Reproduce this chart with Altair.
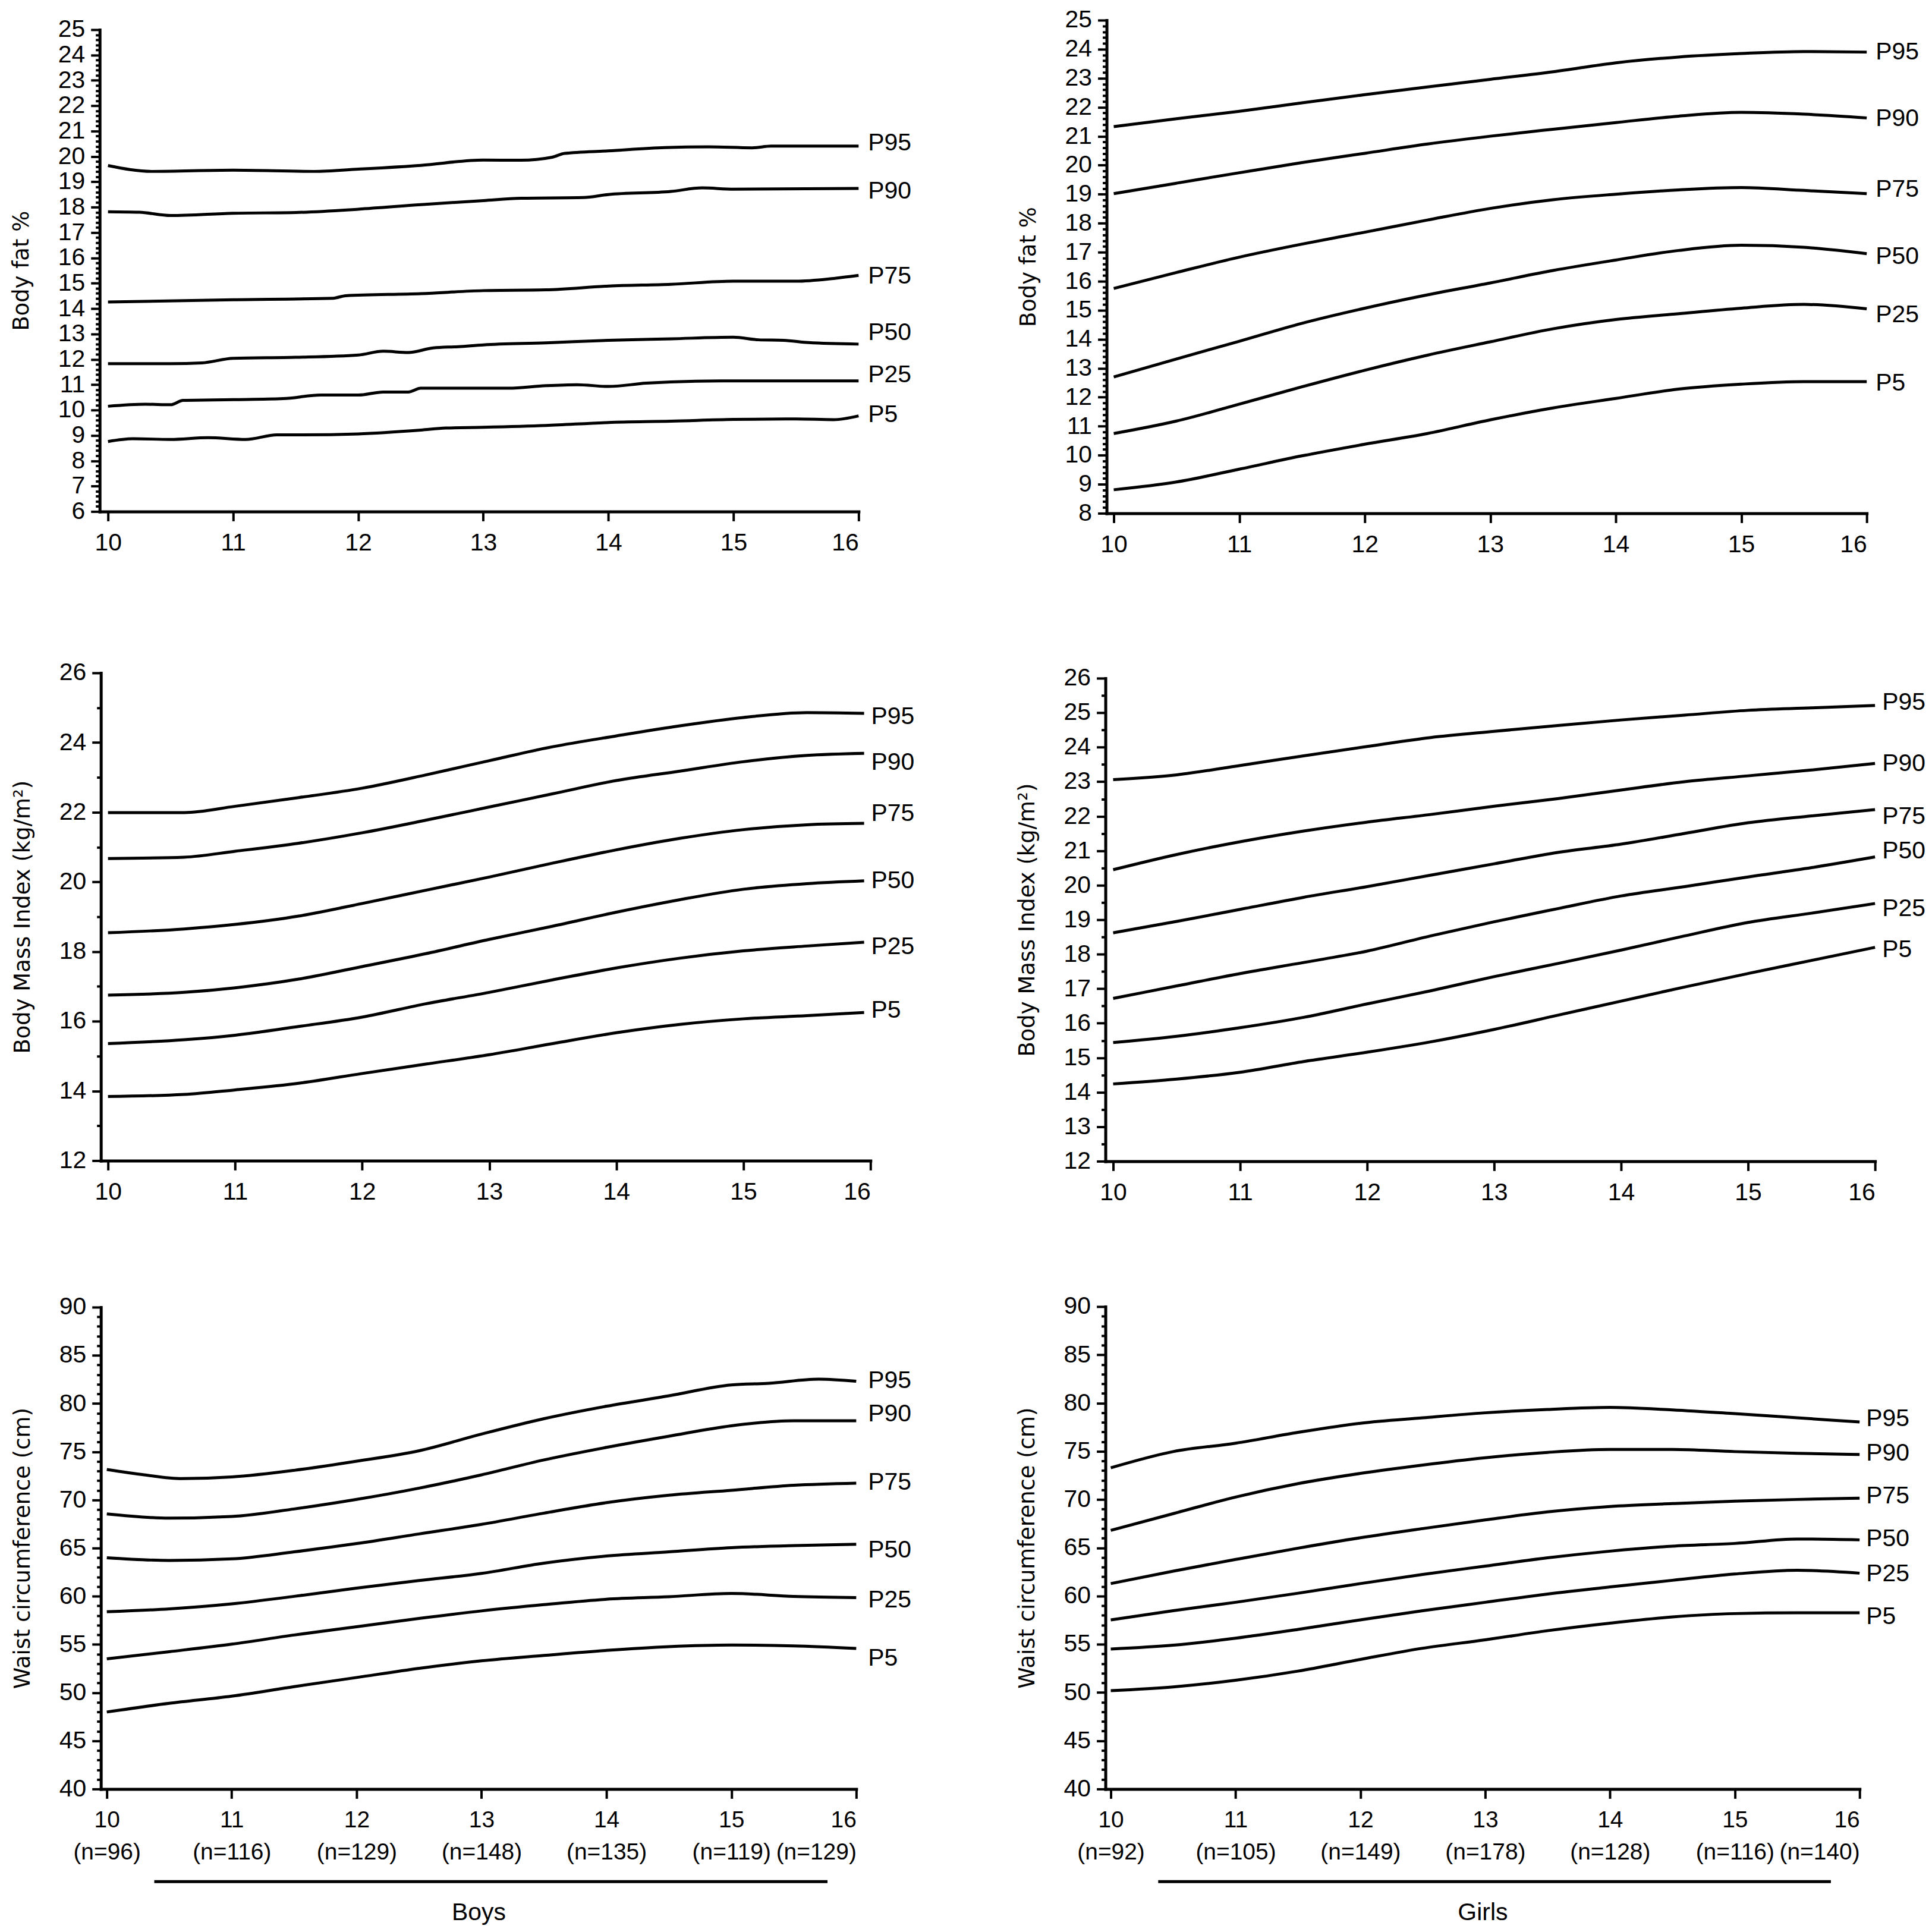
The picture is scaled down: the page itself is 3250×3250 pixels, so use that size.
import altair as alt
import pandas as pd

PCTS = ["P95", "P90", "P75", "P50", "P25", "P5"]
GRID = [10, 10.5, 11, 11.5, 12, 12.5, 13, 13.5, 14, 14.5, 15, 15.5, 16]

# ---------- Body fat %, boys ----------
bf_boys_age = {
    "P95": [10, 10.35, 11, 11.65, 12, 12.5, 13, 13.3, 13.55, 13.65, 14, 14.45, 14.8, 15.15, 15.3, 16],
    "P90": [10, 10.25, 10.5, 11, 11.5, 12, 12.5, 13, 13.3, 13.8, 14, 14.5, 14.75, 15, 16],
    "P75": [10, 11, 11.8, 11.9, 12.5, 13, 13.5, 14, 14.5, 15, 15.5, 15.8, 16],
    "P50": [10, 10.5, 10.75, 11, 11.5, 12, 12.2, 12.4, 12.6, 12.8, 13, 13.5, 14, 14.5, 15, 15.2, 15.4, 15.6, 16],
    "P25": [10, 10.3, 10.5, 10.6, 11, 11.4, 11.7, 12, 12.2, 12.4, 12.5, 13, 13.2, 13.5, 13.75, 14, 14.3, 14.7, 15, 16],
    "P5": [10, 10.2, 10.5, 10.8, 11.1, 11.35, 11.5, 12, 12.5, 12.7, 13, 13.5, 14, 14.5, 15, 15.5, 15.8, 16],
}
bf_boys_val = {
    "P95": [19.64, 19.41, 19.46, 19.41, 19.50, 19.65, 19.86, 19.85, 19.97, 20.12, 20.22, 20.35, 20.38, 20.34, 20.41, 20.41],
    "P90": [17.82, 17.80, 17.67, 17.76, 17.79, 17.92, 18.10, 18.26, 18.35, 18.38, 18.50, 18.62, 18.76, 18.71, 18.74],
    "P75": [14.26, 14.35, 14.41, 14.51, 14.59, 14.71, 14.74, 14.89, 14.96, 15.08, 15.08, 15.19, 15.31],
    "P50": [11.83, 11.83, 11.86, 12.04, 12.08, 12.17, 12.32, 12.27, 12.45, 12.50, 12.57, 12.65, 12.75, 12.81, 12.87, 12.77, 12.75, 12.66, 12.60],
    "P25": [10.15, 10.23, 10.21, 10.38, 10.41, 10.45, 10.59, 10.59, 10.71, 10.71, 10.86, 10.86, 10.86, 10.96, 11.0, 10.93, 11.06, 11.14, 11.15, 11.15],
    "P5": [8.76, 8.87, 8.84, 8.91, 8.84, 9.02, 9.02, 9.06, 9.21, 9.29, 9.32, 9.39, 9.51, 9.56, 9.63, 9.65, 9.62, 9.77],
}
bf_boys_label_y = [20.52, 18.62, 15.26, 13.05, 11.38, 9.81]

# ---------- Body fat %, girls ----------
bf_girls_val = {
    "P95": [21.33, 21.60, 21.86, 22.15, 22.43, 22.70, 22.96, 23.22, 23.53, 23.73, 23.85, 23.92, 23.90],
    "P90": [19.02, 19.38, 19.74, 20.09, 20.41, 20.73, 21.00, 21.24, 21.47, 21.69, 21.82, 21.76, 21.63],
    "P75": [15.75, 16.30, 16.83, 17.28, 17.69, 18.11, 18.51, 18.81, 19.00, 19.15, 19.23, 19.13, 19.02],
    "P50": [12.70, 13.32, 13.93, 14.55, 15.07, 15.53, 15.94, 16.37, 16.73, 17.06, 17.24, 17.17, 16.95],
    "P25": [10.75, 11.18, 11.76, 12.36, 12.93, 13.45, 13.91, 14.36, 14.68, 14.88, 15.07, 15.20, 15.05],
    "P5": [8.81, 9.08, 9.52, 9.98, 10.38, 10.75, 11.22, 11.63, 11.96, 12.28, 12.45, 12.54, 12.54],
}
bf_girls_label_y = [23.90, 21.59, 19.16, 16.85, 14.84, 12.48]

# ---------- BMI, boys ----------
bmi_boys_ages = [10, 10.6, 11, 11.5, 12, 12.5, 13, 13.5, 14, 14.5, 15, 15.5, 15.95]
bmi_boys_val = {
    "P95": [21.99, 21.99, 22.17, 22.42, 22.69, 23.07, 23.48, 23.88, 24.19, 24.48, 24.72, 24.86, 24.84],
    "P90": [20.67, 20.71, 20.88, 21.11, 21.41, 21.77, 22.15, 22.53, 22.91, 23.18, 23.45, 23.63, 23.69],
    "P75": [18.54, 18.65, 18.78, 19.02, 19.38, 19.76, 20.14, 20.54, 20.92, 21.25, 21.50, 21.64, 21.68],
    "P50": [16.75, 16.83, 16.96, 17.21, 17.57, 17.94, 18.35, 18.73, 19.13, 19.49, 19.79, 19.95, 20.03],
    "P25": [15.36, 15.47, 15.60, 15.85, 16.12, 16.50, 16.83, 17.19, 17.53, 17.81, 18.02, 18.16, 18.27],
    "P5": [13.84, 13.90, 14.03, 14.22, 14.50, 14.77, 15.04, 15.36, 15.67, 15.91, 16.07, 16.16, 16.25],
}
bmi_boys_label_y = [24.73, 23.43, 21.96, 20.02, 18.13, 16.31]

# ---------- BMI, girls ----------
bmi_girls_val = {
    "P95": [23.06, 23.20, 23.47, 23.75, 24.02, 24.28, 24.46, 24.63, 24.79, 24.93, 25.07, 25.14, 25.21],
    "P90": [20.45, 20.89, 21.26, 21.57, 21.83, 22.05, 22.29, 22.51, 22.76, 23.00, 23.17, 23.34, 23.53],
    "P75": [18.62, 18.95, 19.30, 19.65, 19.96, 20.29, 20.62, 20.95, 21.19, 21.50, 21.81, 22.01, 22.19],
    "P50": [16.72, 17.08, 17.44, 17.76, 18.09, 18.53, 18.94, 19.32, 19.69, 19.96, 20.24, 20.51, 20.82],
    "P25": [15.44, 15.62, 15.87, 16.17, 16.56, 16.94, 17.35, 17.73, 18.12, 18.53, 18.92, 19.19, 19.47],
    "P5": [14.24, 14.38, 14.58, 14.89, 15.16, 15.46, 15.82, 16.23, 16.64, 17.05, 17.44, 17.82, 18.20],
}
bmi_girls_label_y = [25.29, 23.51, 21.99, 20.98, 19.32, 18.12]

# ---------- Waist circumference, boys ----------
wc_boys_p95_ages = [10, 10.3, 10.6, 11, 11.5, 12, 12.5, 13, 13.5, 14, 14.5, 15, 15.3, 15.7, 16]
wc_boys_val = {
    "P95": [73.16, 72.60, 72.21, 72.38, 73.07, 74.02, 75.10, 76.83, 78.43, 79.72, 80.80, 81.93, 82.10, 82.53, 82.31],
    "P90": [68.54, 68.11, 68.28, 69.06, 70.05, 71.22, 72.60, 74.15, 75.45, 76.61, 77.69, 78.21, 78.21],
    "P75": [64.00, 63.72, 63.88, 64.61, 65.47, 66.47, 67.46, 68.63, 69.71, 70.48, 71.00, 71.52, 71.74],
    "P50": [58.39, 58.69, 59.21, 59.99, 60.85, 61.63, 62.37, 63.44, 64.18, 64.61, 65.04, 65.26, 65.39],
    "P25": [53.51, 54.25, 55.03, 55.98, 56.84, 57.70, 58.48, 59.13, 59.69, 59.95, 60.29, 59.99, 59.86],
    "P5": [47.99, 48.89, 49.63, 50.62, 51.57, 52.52, 53.30, 53.86, 54.38, 54.77, 54.94, 54.85, 54.59],
}
wc_boys_label_y = [82.36, 78.90, 71.78, 64.74, 59.56, 53.51]
boys_n = [96, 116, 129, 148, 135, 119, 129]

# ---------- Waist circumference, girls ----------
wc_girls_val = {
    "P95": [73.29, 74.97, 75.84, 76.96, 77.91, 78.47, 78.99, 79.34, 79.55, 79.29, 78.90, 78.47, 78.04],
    "P90": [66.81, 68.54, 70.26, 71.65, 72.71, 73.58, 74.33, 74.89, 75.19, 75.19, 74.97, 74.80, 74.67],
    "P75": [61.29, 62.58, 63.79, 64.96, 66.04, 66.99, 67.89, 68.72, 69.28, 69.58, 69.84, 70.01, 70.14],
    "P50": [57.53, 58.48, 59.35, 60.29, 61.29, 62.24, 63.10, 63.96, 64.65, 65.17, 65.45, 65.91, 65.82],
    "P25": [54.51, 54.90, 55.63, 56.54, 57.53, 58.48, 59.35, 60.21, 60.94, 61.63, 62.28, 62.67, 62.37],
    "P5": [50.19, 50.58, 51.27, 52.22, 53.43, 54.59, 55.46, 56.41, 57.19, 57.83, 58.18, 58.26, 58.26],
}
wc_girls_label_y = [78.34, 74.80, 70.35, 65.91, 62.28, 57.83]
girls_n = [92, 105, 149, 178, 128, 116, 140]

bracket = [10.38, 15.77]

LABEL_FONT = "Liberation Sans"
TITLE_FONT = "DejaVu Sans"
FS = 41
W, H = 3240, 3234


def frame(ages, vals):
    rows = []
    for p in PCTS:
        a = ages[p] if isinstance(ages, dict) else ages
        for x, v in zip(a, vals[p]):
            rows.append({"age": x, "value": v, "pct": p})
    return pd.DataFrame(rows)


def ticks(lo, hi, step):
    n = int(round((hi - lo) / step))
    return [round(lo + i * step, 2) for i in range(n + 1)]


def panel(df, label_y, end_age, px, ydom, major_step, minor_step, ytitle,
          dx, title_pad=42, n_list=None, group=None):
    # px: (axis_x, x10, x16, y_top, y_bottom) in plot coordinates
    axis_x, x10, x16, y_top, y_bot = px
    unit = (x16 - x10) / 6.0
    d0 = 10 - (x10 - axis_x) / unit
    xscale = alt.Scale(domain=[d0, 16], range=[axis_x, x16], nice=False, zero=False)
    yscale = alt.Scale(domain=ydom, range=[y_bot, y_top], nice=False, zero=False)

    major = ticks(ydom[0], ydom[1], major_step)
    minor = [v for v in ticks(ydom[0], ydom[1], minor_step)
             if all(abs(v - m) > 1e-6 for m in major)]

    xaxis_kw = dict(
        orient="bottom", offset=y_bot - H, values=[10, 11, 12, 13, 14, 15, 16],
        tickSize=16, labelPadding=17, format="d", labelOverlap=False,
    )
    if n_list is not None:
        arr = "[" + ",".join("'(n=%d)'" % n for n in n_list) + "]"
        xaxis_kw.update(
            labelExpr="[datum.label, " + arr + "[round(datum.value) - 10]]",
            labelLineHeight=54, labelFontSize=39,
            title=group, titleFont=LABEL_FONT, titleFontSize=FS,
            titleFontWeight="normal", titlePadding=62,
        )
    else:
        xaxis_kw.update(title=None)

    xax = alt.Axis(**xaxis_kw)
    yax = alt.Axis(
        orient="left", offset=-axis_x, values=major, labelOverlap=False,
        format="d", tickSize=15, labelPadding=10, title=ytitle,
        titleFont=TITLE_FONT, titleFontSize=37, titleFontWeight="normal",
        titlePadding=title_pad,
    )
    yminor = alt.Axis(
        orient="left", offset=-axis_x, values=minor, labels=False, domain=False,
        tickSize=7, title=None,
    )

    lines = alt.Chart(df).mark_line(
        color="black", strokeWidth=5, interpolate="monotone"
    ).encode(
        x=alt.X("age:Q", scale=xscale, axis=xax),
        y=alt.Y("value:Q", scale=yscale, axis=yax),
        detail="pct:N",
    )
    lab = pd.DataFrame({"age": [end_age] * 6, "value": label_y, "pct": PCTS})
    texts = alt.Chart(lab).mark_text(
        align="left", baseline="middle", dx=dx, font=LABEL_FONT, fontSize=FS, color="black"
    ).encode(
        x="age:Q",
        y=alt.Y("value:Q", axis=yminor),
        text="pct:N",
    )
    layers = [lines, texts]
    if n_list is not None:
        br = pd.DataFrame({"age": [bracket[0]], "age2": [bracket[1]]})
        rule = alt.Chart(br).mark_rule(color="black", strokeWidth=5).encode(
            x="age:Q", x2="age2:Q", y=alt.value(y_bot + 156)
        )
        layers.append(rule)
    return alt.layer(*layers).resolve_axis(y="independent")


p1 = panel(frame(bf_boys_age, bf_boys_val), bf_boys_label_y, 16,
           (160, 174, 1439, 39, 851), [6, 25], 1, 0.2, "Body fat %", 16)
p2 = panel(frame(GRID, bf_girls_val), bf_girls_label_y, 16,
           (1857, 1869, 3138, 23, 854), [8, 25], 1, 0.2, "Body fat %", 15)
p3 = panel(frame(bmi_boys_ages, bmi_boys_val), bmi_boys_label_y, 15.95,
           (162, 174, 1459, 1123, 1945), [12, 26], 2, 1,
           "Body Mass Index (kg/m²)", 12)
p4 = panel(frame(GRID, bmi_girls_val), bmi_girls_label_y, 16,
           (1855, 1868, 3152, 1132, 1946), [12, 26], 1, 0.5,
           "Body Mass Index (kg/m²)", 12)
p5 = panel(frame({"P95": wc_boys_p95_ages, "P90": GRID, "P75": GRID, "P50": GRID,
                  "P25": GRID, "P5": GRID}, wc_boys_val), wc_boys_label_y, 16,
           (162, 172, 1435, 2192, 3004), [40, 90], 5, 1,
           "Waist circumference (cm)", 20, n_list=boys_n, group="Boys")
p6 = panel(frame(GRID, wc_girls_val), wc_girls_label_y, 16,
           (1855, 1864, 3126, 2191, 3004), [40, 90], 5, 1,
           "Waist circumference (cm)", 11, n_list=girls_n, group="Girls")

chart = alt.layer(p1, p2, p3, p4, p5, p6).resolve_scale(
    x="independent", y="independent"
).properties(
    width=W, height=H, padding=0, autosize=alt.AutoSizeParams(type="none")
).configure_view(strokeWidth=0).configure_axis(
    grid=False, domainColor="black", domainWidth=5, tickColor="black", tickWidth=4,
    labelColor="black", labelFont=LABEL_FONT, labelFontSize=FS, titleColor="black",
    domainCap="square",
)

chart.save("out.html", embed_options={"renderer": "svg", "actions": False})
